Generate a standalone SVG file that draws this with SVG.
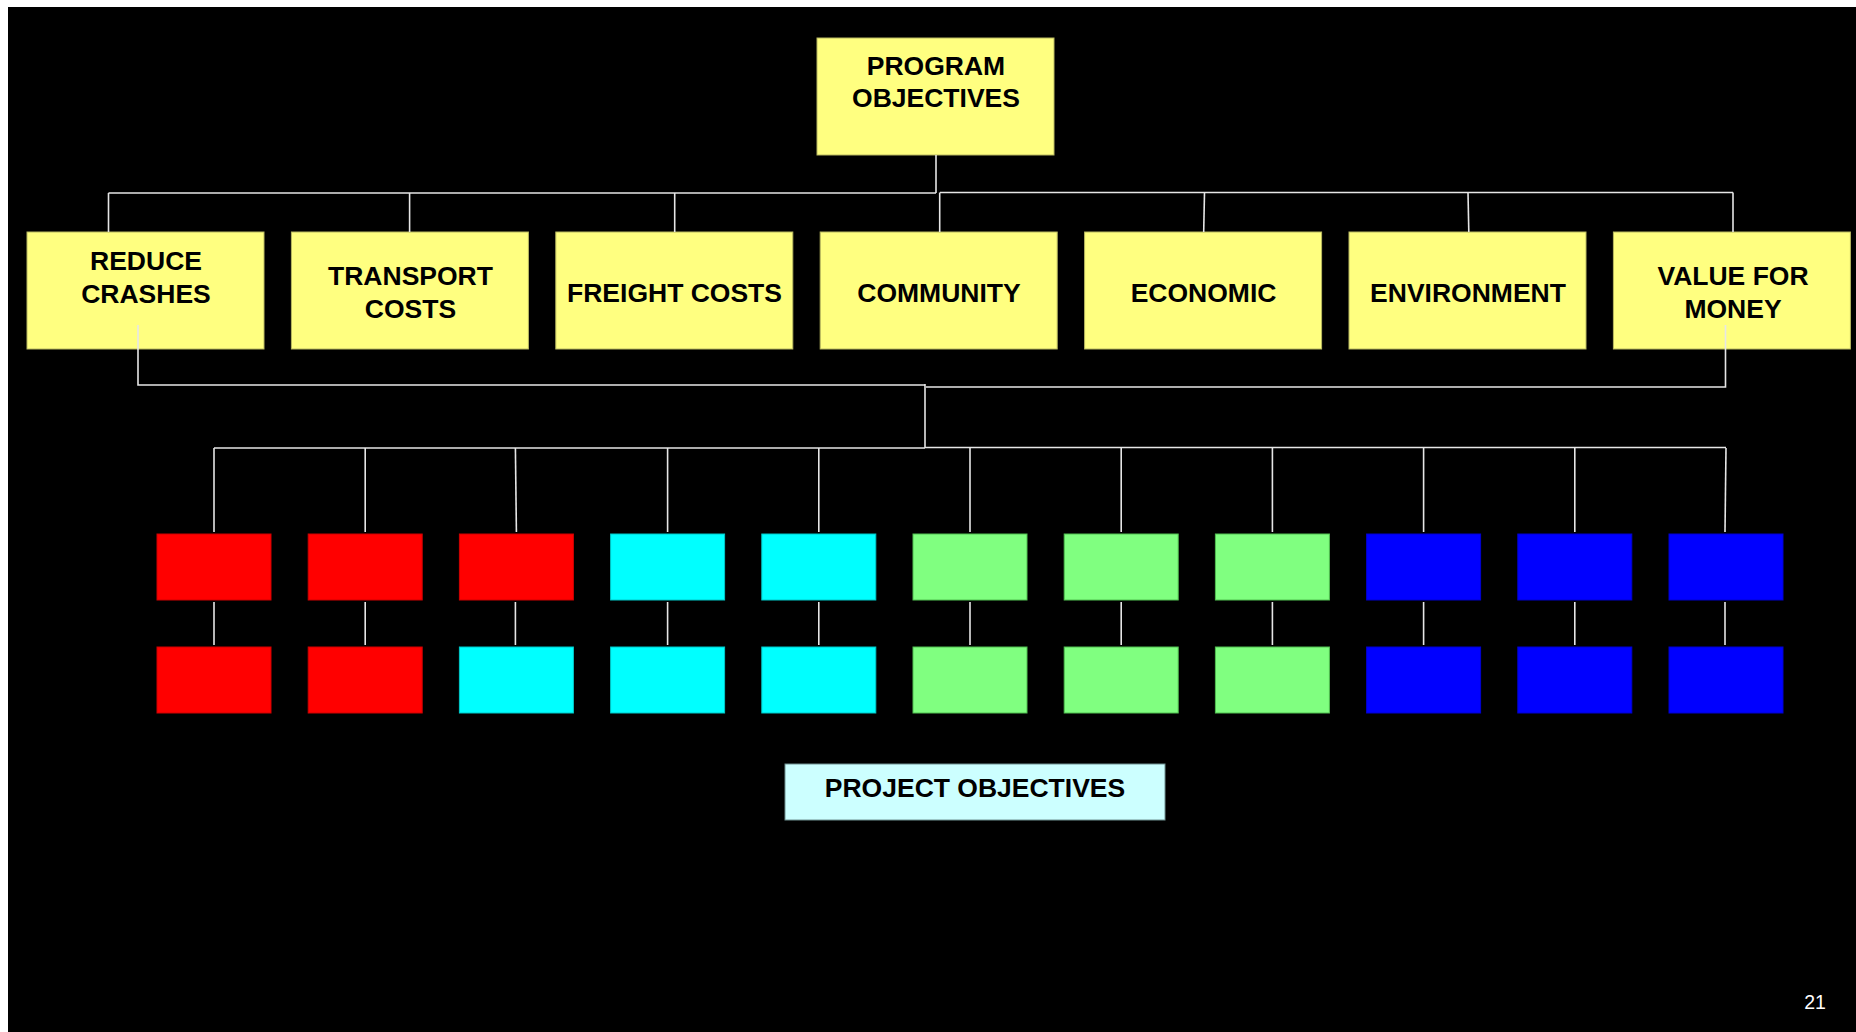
<svg xmlns="http://www.w3.org/2000/svg" width="1856" height="1032" viewBox="0 0 1856 1032">
<defs>
<style>
.lbl{font-family:"Liberation Sans",Arial,sans-serif;font-weight:bold;font-size:26.5px;fill:#000;text-anchor:middle}
.prog{fill:#FFFF80;stroke:#B8B860;stroke-width:1}
.r{fill:#FF0000;stroke:#D00000;stroke-width:1}
.c{fill:#00FFFF;stroke:#00C8C8;stroke-width:1}
.g{fill:#80FF80;stroke:#50C050;stroke-width:1}
.b{fill:#0000FF;stroke:#0000D0;stroke-width:1}
.conn line,.conn polyline{stroke:#E6E6E6;stroke-width:1.6;fill:none}
</style>
</defs>
<rect x="0" y="0" width="1856" height="1032" fill="#FFFFFF"/>
<rect x="8" y="7" width="1848" height="1025" fill="#000000"/>

<g id="program-objectives">
<rect class="prog" x="817" y="38" width="237" height="117"/>
<text class="lbl" x="936" y="74.5">PROGRAM</text>
<text class="lbl" x="936" y="107">OBJECTIVES</text>
</g>

<g id="reduce-crashes">
<rect class="prog" x="27" y="232" width="237" height="117"/>
<text class="lbl" x="146" y="269.5">REDUCE</text>
<text class="lbl" x="146" y="302.5">CRASHES</text>
</g>
<g id="transport-costs">
<rect class="prog" x="291.4" y="232" width="237" height="117"/>
<text class="lbl" x="410.5" y="285">TRANSPORT</text>
<text class="lbl" x="410.5" y="318">COSTS</text>
</g>
<g id="freight-costs">
<rect class="prog" x="555.8" y="232" width="237" height="117"/>
<text class="lbl" x="674.5" y="302">FREIGHT COSTS</text>
</g>
<g id="community">
<rect class="prog" x="820.2" y="232" width="237" height="117"/>
<text class="lbl" x="939" y="302">COMMUNITY</text>
</g>
<g id="economic">
<rect class="prog" x="1084.6" y="232" width="237" height="117"/>
<text class="lbl" x="1203.5" y="302">ECONOMIC</text>
</g>
<g id="environment">
<rect class="prog" x="1349" y="232" width="237" height="117"/>
<text class="lbl" x="1468" y="302">ENVIRONMENT</text>
</g>
<g id="value-for-money">
<rect class="prog" x="1613.4" y="232" width="237" height="117"/>
<text class="lbl" x="1733" y="285">VALUE FOR</text>
<text class="lbl" x="1733" y="318">MONEY</text>
</g>

<g id="project-row1">
<rect class="r" x="157" y="534" width="114" height="66"/>
<rect class="r" x="308.2" y="534" width="114" height="66"/>
<rect class="r" x="459.4" y="534" width="114" height="66"/>
<rect class="c" x="610.6" y="534" width="114" height="66"/>
<rect class="c" x="761.8" y="534" width="114" height="66"/>
<rect class="g" x="913" y="534" width="114" height="66"/>
<rect class="g" x="1064.2" y="534" width="114" height="66"/>
<rect class="g" x="1215.4" y="534" width="114" height="66"/>
<rect class="b" x="1366.6" y="534" width="114" height="66"/>
<rect class="b" x="1517.8" y="534" width="114" height="66"/>
<rect class="b" x="1669" y="534" width="114" height="66"/>
</g>
<g id="project-row2">
<rect class="r" x="157" y="647" width="114" height="66"/>
<rect class="r" x="308.2" y="647" width="114" height="66"/>
<rect class="c" x="459.4" y="647" width="114" height="66"/>
<rect class="c" x="610.6" y="647" width="114" height="66"/>
<rect class="c" x="761.8" y="647" width="114" height="66"/>
<rect class="g" x="913" y="647" width="114" height="66"/>
<rect class="g" x="1064.2" y="647" width="114" height="66"/>
<rect class="g" x="1215.4" y="647" width="114" height="66"/>
<rect class="b" x="1366.6" y="647" width="114" height="66"/>
<rect class="b" x="1517.8" y="647" width="114" height="66"/>
<rect class="b" x="1669" y="647" width="114" height="66"/>
</g>

<g id="project-objectives">
<rect x="785" y="764" width="380" height="56" fill="#CCFFFF" stroke="#6E9090" stroke-width="1"/>
<text class="lbl" x="975" y="797">PROJECT OBJECTIVES</text>
</g>

<g id="connectors" class="conn">
<!-- program to objectives -->
<line x1="936" y1="155" x2="936" y2="193"/>
<line x1="108.5" y1="193" x2="936" y2="193"/>
<line x1="940" y1="192.5" x2="1733" y2="192.5"/>
<line x1="108.5" y1="193" x2="108.5" y2="232"/>
<line x1="409.6" y1="193" x2="409.6" y2="232"/>
<line x1="674.7" y1="193" x2="674.7" y2="232"/>
<line x1="939.7" y1="192.5" x2="939.7" y2="232"/>
<line x1="1204.5" y1="192.5" x2="1203.7" y2="232"/>
<line x1="1468" y1="192.5" x2="1468.8" y2="232"/>
<line x1="1733" y1="192.5" x2="1733" y2="232"/>
<!-- objectives to project bus -->
<polyline points="138,325 138,385 925,385"/>
<polyline points="1725.5,325 1725.5,387 926,387"/>
<line x1="925" y1="384" x2="925" y2="448"/>
<line x1="214" y1="448" x2="925" y2="448"/>
<line x1="925" y1="447.5" x2="1726" y2="447.5"/>
<!-- bus to row 1 -->
<line x1="214" y1="448" x2="214" y2="532"/>
<line x1="365.2" y1="448" x2="365.2" y2="532"/>
<line x1="515.4" y1="448" x2="516.4" y2="532"/>
<line x1="667.6" y1="448" x2="667.6" y2="532"/>
<line x1="818.8" y1="448" x2="818.8" y2="532"/>
<line x1="970" y1="448" x2="970" y2="532"/>
<line x1="1121.2" y1="448" x2="1121.2" y2="532"/>
<line x1="1272.4" y1="448" x2="1272.4" y2="532"/>
<line x1="1423.6" y1="448" x2="1423.6" y2="532"/>
<line x1="1574.8" y1="448" x2="1574.8" y2="532"/>
<line x1="1726" y1="448" x2="1725" y2="532"/>
<!-- row 1 to row 2 -->
<line x1="214" y1="602" x2="214" y2="645"/>
<line x1="365.2" y1="602" x2="365.2" y2="645"/>
<line x1="515.4" y1="602" x2="515.4" y2="645"/>
<line x1="667.6" y1="602" x2="667.6" y2="645"/>
<line x1="818.8" y1="602" x2="818.8" y2="645"/>
<line x1="970" y1="602" x2="970" y2="645"/>
<line x1="1121.2" y1="602" x2="1121.2" y2="645"/>
<line x1="1272.4" y1="602" x2="1272.4" y2="645"/>
<line x1="1423.6" y1="602" x2="1423.6" y2="645"/>
<line x1="1574.8" y1="602" x2="1574.8" y2="645"/>
<line x1="1725" y1="602" x2="1725" y2="645"/>
</g>

<text x="1815" y="1009" font-family="'Liberation Sans',Arial,sans-serif" font-size="19.5" fill="#FFFFFF" text-anchor="middle">21</text>
</svg>
